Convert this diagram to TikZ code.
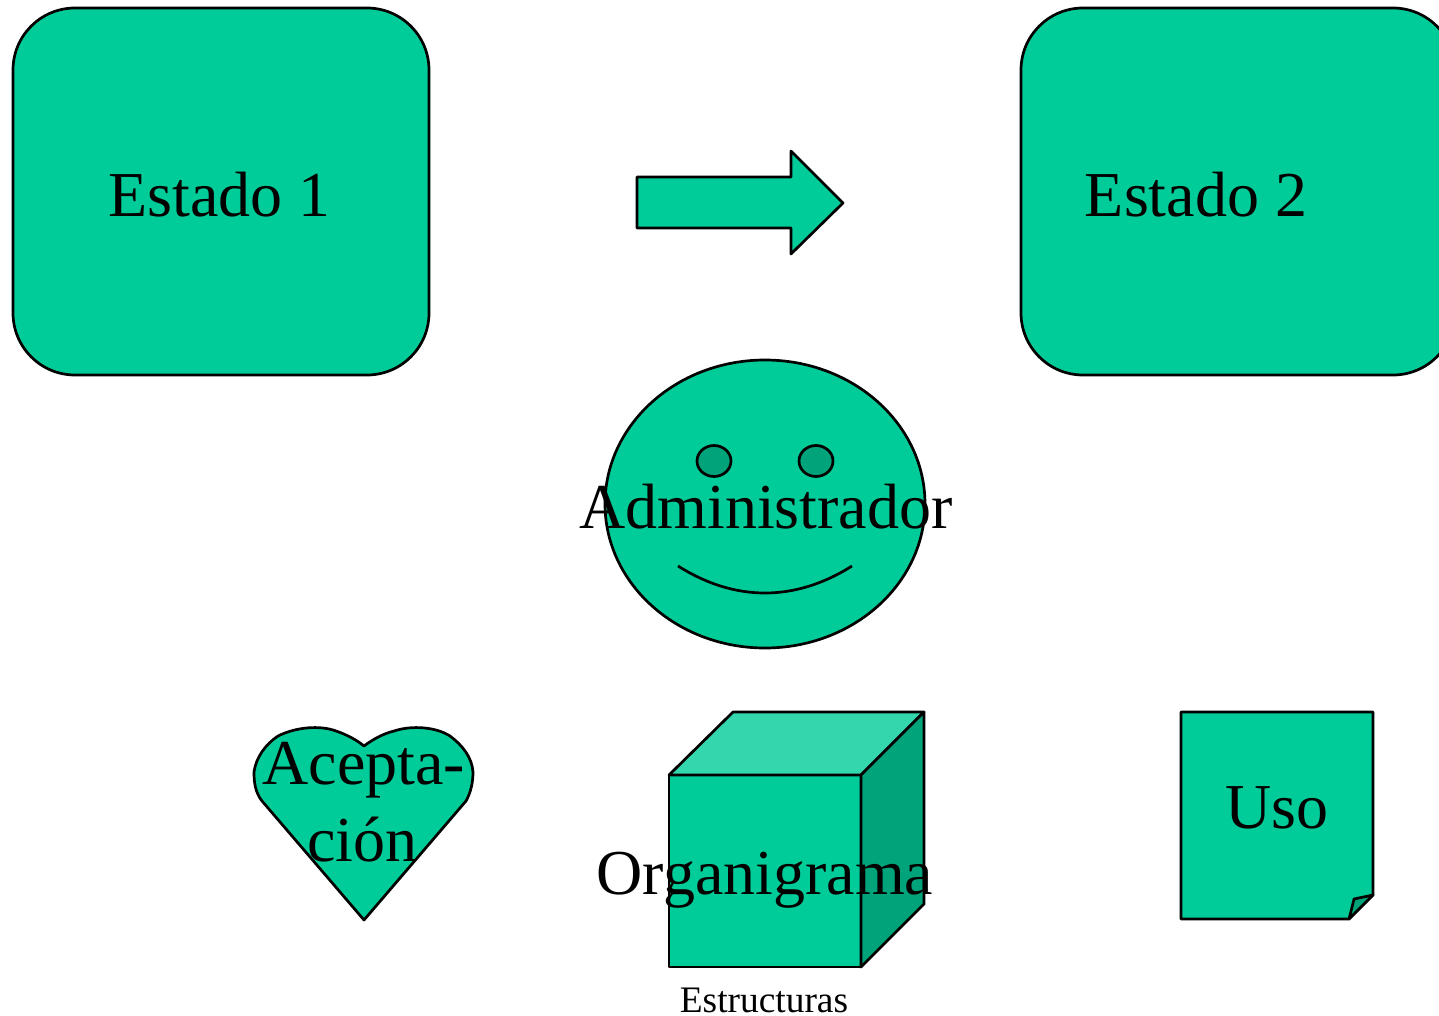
\documentclass[tikz,border=0pt]{standalone}
\usepackage{fontspec}
\setmainfont{Liberation Serif}
\definecolor{fillg}{HTML}{00CC99}
\definecolor{darkg}{HTML}{00A37A}
\definecolor{lightg}{HTML}{33D6AD}
\tikzset{
  shapeline/.style={draw=black,line width=2.7pt,line join=round,fill=fillg},
  bigtext/.style={font=\fontsize{64}{78}\selectfont,inner sep=0pt,align=center,text=black},
  smalltext/.style={font=\fontsize{37.4}{44}\selectfont,inner sep=0pt,text=black}
}
\begin{document}
\begin{tikzpicture}[x=1pt,y=-1pt]
\useasboundingbox (0,0) rectangle (1439,1016);
\clip (0,0) rectangle (1439,1016);
% state boxes
\path[shapeline,rounded corners=62pt] (13,8) rectangle (429,375);
\path[shapeline,rounded corners=62pt] (1021,8) rectangle (1455,375);
\node[bigtext,anchor=base] (e1) at (219.5,216.5) {Estado 1};
\node[bigtext,anchor=base] (e2) at (1196,216.5) {Estado 2};
% arrow
\path[shapeline] (637,177) -- (791,177) -- (791,151) -- (843,203) -- (791,254) -- (791,228) -- (637,228) -- cycle;
% smiley
\path[shapeline] (765,504) ellipse[x radius=160,y radius=144];
\path[shapeline,fill=darkg] (714,461) ellipse[x radius=17,y radius=15.5];
\path[shapeline,fill=darkg] (816,461) ellipse[x radius=17,y radius=15.5];
\draw[line width=2.7pt] (678,566) .. controls (735,602) and (795,602) .. (852,566);
\node[bigtext,anchor=base] (adm) at (766,528) {Administrador};
% heart
\path[shapeline] (364,920) -- (262,801) .. controls (255,792) and (254,782) .. (254,772)
  .. controls (256,757) and (266,744) .. (278,736) .. controls (296,727) and (320,725) .. (336,731)
  .. controls (348,735) and (358,741) .. (364,746) .. controls (372,740) and (382,734) .. (394,731)
  .. controls (412,725) and (436,727) .. (450,736) .. controls (462,745) and (472,757) .. (473,772)
  .. controls (473,782) and (471,792) .. (466,801) -- cycle;
\node[bigtext,anchor=base] (ac1) at (364,784.5) {Acepta-};
\node[bigtext,anchor=base] (ac2) at (362.5,861.5) {ción};
% cube
\path[shapeline] (669,775) rectangle (861,967);
\path[shapeline,fill=lightg] (669,775) -- (733,712) -- (924,712) -- (861,775) -- cycle;
\path[shapeline,fill=darkg] (861,775) -- (924,712) -- (924,904) -- (861,967) -- cycle;
\node[bigtext,anchor=base] (org) at (765,894.5) {Organigrama};
\node[smalltext,anchor=base] (est) at (764,1012.5) {Estructuras};
% note
\path[shapeline] (1181,712) -- (1373,712) -- (1373,895) -- (1349,919) -- (1181,919) -- cycle;
\path[shapeline,fill=darkg] (1373,895) -- (1354,899) -- (1349,919) -- cycle;
\node[bigtext,anchor=base] (uso) at (1277,828) {Uso};
\end{tikzpicture}
\end{document}
